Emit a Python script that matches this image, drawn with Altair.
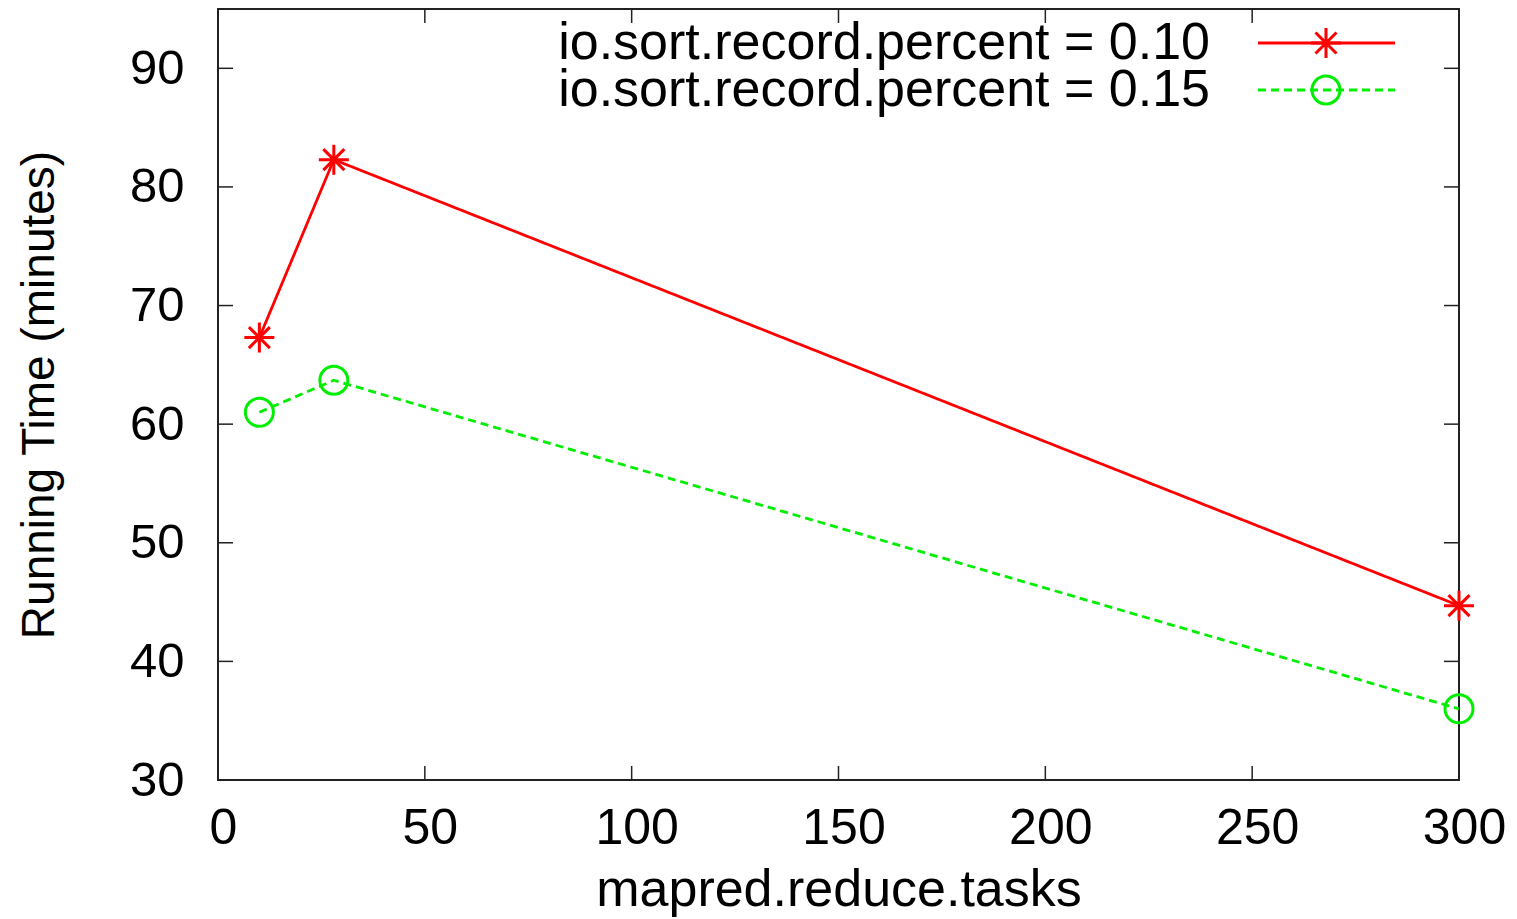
import altair as alt
import pandas as pd

# ---- data ----
tasks = [10, 28, 300]
time_010 = [67.3, 82.3, 44.7]
time_015 = [61.0, 63.7, 36.0]
series = ["io.sort.record.percent = 0.10", "io.sort.record.percent = 0.15"]
colors = ["#ff0000", "#00ee00"]
x_ticks = [0, 50, 100, 150, 200, 250, 300]
y_ticks = [30, 40, 50, 60, 70, 80, 90]

W, H = 1241, 771
FONT = "Liberation Sans"
STAR = "M-1,0L1,0M0,-1L0,1M-0.7,-0.7L0.7,0.7M-0.7,0.7L0.7,-0.7"
TICK = "#222222"

df = pd.DataFrame({
    "x": tasks + tasks,
    "y": time_010 + time_015,
    "series": [series[0]] * len(tasks) + [series[1]] * len(tasks),
})
xt = pd.DataFrame({"x": x_ticks})
yt = pd.DataFrame({"y": y_ticks})

xscale = alt.Scale(domain=[0, 300], nice=False, zero=False)
yscale = alt.Scale(domain=[30, 95], nice=False, zero=False)

x_axis = alt.Axis(
    values=x_ticks, title="mapred.reduce.tasks", ticks=False, domain=False, grid=False,
    labelFontSize=50, labelPadding=23, labelOffset=5, labelColor="black", labelFont=FONT,
    labelFlush=False, labelOverlap=False,
    titleFontSize=52, titleFontWeight="normal", titleColor="black", titleFont=FONT,
    titleBaseline="alphabetic", titleY=125)
y_axis = alt.Axis(
    values=y_ticks, title="Running Time (minutes)", ticks=False, domain=False, grid=False,
    labelFontSize=49, labelPadding=34, labelColor="black", labelFont=FONT,
    labelFlush=False, labelOverlap=False,
    titleFontSize=46, titleFontWeight="normal", titleColor="black", titleFont=FONT,
    titleBaseline="alphabetic", titleX=-165)

xs = alt.X("x:Q", scale=xscale, axis=x_axis)
ys = alt.Y("y:Q", scale=yscale, axis=y_axis)

color = alt.Color("series:N", scale=alt.Scale(domain=series, range=colors), legend=None)
dash = alt.StrokeDash("series:N", scale=alt.Scale(domain=series, range=[[1, 0], [8, 5]]), legend=None)
shape = alt.Shape("series:N", scale=alt.Scale(domain=series, range=[STAR, "circle"]), legend=None)
size = alt.Size("series:N", scale=alt.Scale(domain=series, range=[900, 784]), legend=None)

lines = alt.Chart(df).mark_line(strokeWidth=2.8, clip=False).encode(
    x=xs, y=ys, color=color, strokeDash=dash)
points = alt.Chart(df).mark_point(filled=False, strokeWidth=3, opacity=1, clip=False).encode(
    x=xs, y=ys, color=color, shape=shape, size=size)

tick_bottom = alt.Chart(xt).mark_rule(color=TICK, strokeWidth=1.5).encode(
    x=xs, y=alt.value(H), y2=alt.value(H - 14))
tick_top = alt.Chart(xt).mark_rule(color=TICK, strokeWidth=1.5).encode(
    x=xs, y=alt.value(0), y2=alt.value(14))
tick_left = alt.Chart(yt).mark_rule(color=TICK, strokeWidth=1.5).encode(
    y=ys, x=alt.value(0), x2=alt.value(15))
tick_right = alt.Chart(yt).mark_rule(color=TICK, strokeWidth=1.5).encode(
    y=ys, x=alt.value(W), x2=alt.value(W - 15))

legend_layers = []
for i, (lab, col) in enumerate(zip(series, colors)):
    ly = 34 + 47 * i
    one = pd.DataFrame({"label": [lab]})
    legend_layers.append(alt.Chart(one).mark_text(
        align="right", baseline="middle", fontSize=52, font=FONT, color="black").encode(
        x=alt.value(992), y=alt.value(ly), text="label:N"))
    legend_layers.append(alt.Chart(one).mark_rule(
        color=col, strokeWidth=2.8, strokeDash=[1, 0] if i == 0 else [8, 5]).encode(
        x=alt.value(1040), x2=alt.value(1177), y=alt.value(ly)))
    legend_layers.append(alt.Chart(one).mark_point(
        color=col, filled=False, strokeWidth=3, opacity=1,
        shape=STAR if i == 0 else "circle", size=900 if i == 0 else 784).encode(
        x=alt.value(1108), y=alt.value(ly)))

chart = alt.layer(
    lines, points, tick_bottom, tick_top, tick_left, tick_right, *legend_layers
).properties(
    width=W, height=H,
    autosize=alt.AutoSizeParams(type="none"),
    padding={"left": 210, "top": 1, "right": 50, "bottom": 139},
    background="white",
).configure_view(stroke="#222222", strokeWidth=2)

chart.save("out.html", embed_options={"renderer": "svg", "actions": False})
